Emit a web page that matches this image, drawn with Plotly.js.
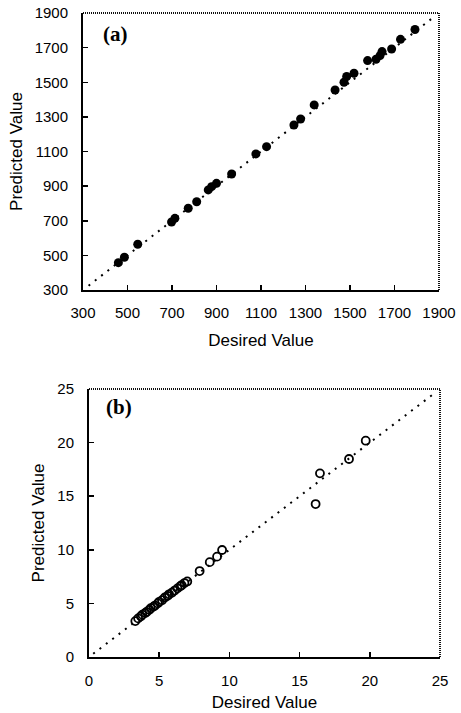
<!DOCTYPE html>
<html>
<head>
<meta charset="utf-8">
<script src="https://cdn.plot.ly/plotly-3.0.1.min.js"></script>
<style>
  html, body { margin: 0; padding: 0; background: #fff; }
  #chart { width: 461px; height: 713px; }
</style>
</head>
<body>
<div id="chart"></div>
<script>
// Panel (a): desired vs predicted values
const desiredA   = [459, 486, 546, 698, 713, 773, 811, 863, 878, 900, 968, 1077, 1125, 1248, 1278, 1339, 1433, 1473, 1485, 1518, 1579, 1617, 1635, 1644, 1687, 1727, 1792];
const predictedA = [458, 489, 564, 693, 714, 772, 810, 878, 897, 916, 970, 1086, 1128, 1253, 1288, 1369, 1455, 1500, 1533, 1552, 1625, 1633, 1654, 1677, 1692, 1748, 1805];
const diagA = [325, 1880];
const ticksA = [300, 500, 700, 900, 1100, 1300, 1500, 1700, 1900];

// Panel (b): desired vs predicted values
const desiredB   = [3.3, 3.5, 3.7, 3.8, 4.0, 4.1, 4.3, 4.4, 4.6, 4.7, 4.9, 5.0, 5.2, 5.4, 5.6, 5.7, 5.9, 6.1, 6.3, 6.5, 6.6, 6.8, 7.0, 7.88, 8.6, 9.12, 9.48, 16.14, 16.45, 18.52, 19.71];
const predictedB = [3.35, 3.6, 3.8, 3.95, 4.1, 4.2, 4.4, 4.55, 4.7, 4.8, 5.0, 5.15, 5.3, 5.55, 5.7, 5.85, 6.0, 6.2, 6.4, 6.6, 6.7, 6.9, 7.05, 8.02, 8.85, 9.36, 9.98, 14.27, 17.13, 18.47, 20.18];
const diagB = [0.3, 24.7];
const ticksB = [0, 5, 10, 15, 20, 25];

const W = 461, H = 713;
const dotLine = { color: 'black', width: 2, dash: '2px,6px' };

const traces = [
  { x: diagA, y: diagA, xaxis: 'x', yaxis: 'y', mode: 'lines', line: dotLine, hoverinfo: 'skip' },
  { x: desiredA, y: predictedA, xaxis: 'x', yaxis: 'y', mode: 'markers', type: 'scatter',
    marker: { symbol: 'circle', size: 9, color: 'black' } },
  { x: diagB, y: diagB, xaxis: 'x2', yaxis: 'y2', mode: 'lines', line: dotLine, hoverinfo: 'skip' },
  { x: desiredB, y: predictedB, xaxis: 'x2', yaxis: 'y2', mode: 'markers', type: 'scatter',
    marker: { symbol: 'circle-open', size: 8, color: 'black', line: { width: 1.8, color: 'black' } } }
];

function axis(extra) {
  return Object.assign({
    showgrid: false, zeroline: false, showline: true, linecolor: 'black', linewidth: 2,
    ticks: 'inside', ticklen: 5, tickwidth: 1.5, tickcolor: 'black',
    tickfont: { family: 'Liberation Sans, Arial, sans-serif', size: 15, color: 'black' },
    fixedrange: true
  }, extra);
}

const titleFont = { family: 'Liberation Sans, Arial, sans-serif', size: 17, color: 'black' };
const frameLine = { color: '#111', width: 2, dash: '1px,1px' };

const layout = {
  width: W, height: H,
  margin: { l: 0, r: 0, t: 0, b: 0 },
  paper_bgcolor: 'white', plot_bgcolor: 'white',
  showlegend: false,
  xaxis: axis({ domain: [83 / W, 439 / W], range: [300, 1900], tickvals: ticksA, anchor: 'y',
    ticklabelstandoff: 8, title: { text: 'Desired Value', font: titleFont, standoff: 14 } }),
  yaxis: axis({ domain: [1 - 290 / H, 1 - 13 / H], range: [300, 1900], tickvals: ticksA, anchor: 'x',
    ticklabelstandoff: 10, title: { text: 'Predicted Value', font: titleFont, standoff: 8 } }),
  xaxis2: axis({ domain: [89 / W, 440 / W], range: [0, 25], tickvals: ticksB, anchor: 'y2',
    ticklabelstandoff: 9, title: { text: 'Desired Value', font: titleFont, standoff: 8 } }),
  yaxis2: axis({ domain: [1 - 657 / H, 1 - 389 / H], range: [0, 25], tickvals: ticksB, anchor: 'x2',
    ticklabelstandoff: 10, title: { text: 'Predicted Value', font: titleFont, standoff: 8 } }),
  shapes: [
    // dotted frame on the top and right of each panel
    { type: 'line', xref: 'x domain', yref: 'y domain', x0: 0, x1: 1, y0: 1, y1: 1, line: frameLine },
    { type: 'line', xref: 'x domain', yref: 'y domain', x0: 1, x1: 1, y0: 0, y1: 1, line: frameLine },
    { type: 'line', xref: 'x2 domain', yref: 'y2 domain', x0: 0, x1: 1, y0: 1, y1: 1, line: frameLine },
    { type: 'line', xref: 'x2 domain', yref: 'y2 domain', x0: 1, x1: 1, y0: 0, y1: 1, line: frameLine }
  ],
  annotations: [
    { text: '<b>(a)</b>', xref: 'x domain', yref: 'y domain', x: 0.05, y: 0.924, xanchor: 'left', yanchor: 'middle',
      showarrow: false, font: { family: 'Liberation Serif, Times New Roman, serif', size: 21, color: 'black' } },
    { text: '<b>(b)</b>', xref: 'x2 domain', yref: 'y2 domain', x: 0.043, y: 0.933, xanchor: 'left', yanchor: 'middle',
      showarrow: false, font: { family: 'Liberation Serif, Times New Roman, serif', size: 21, color: 'black' } }
  ]
};

Plotly.newPlot('chart', traces, layout, { staticPlot: true, displayModeBar: false });
</script>
</body>
</html>
